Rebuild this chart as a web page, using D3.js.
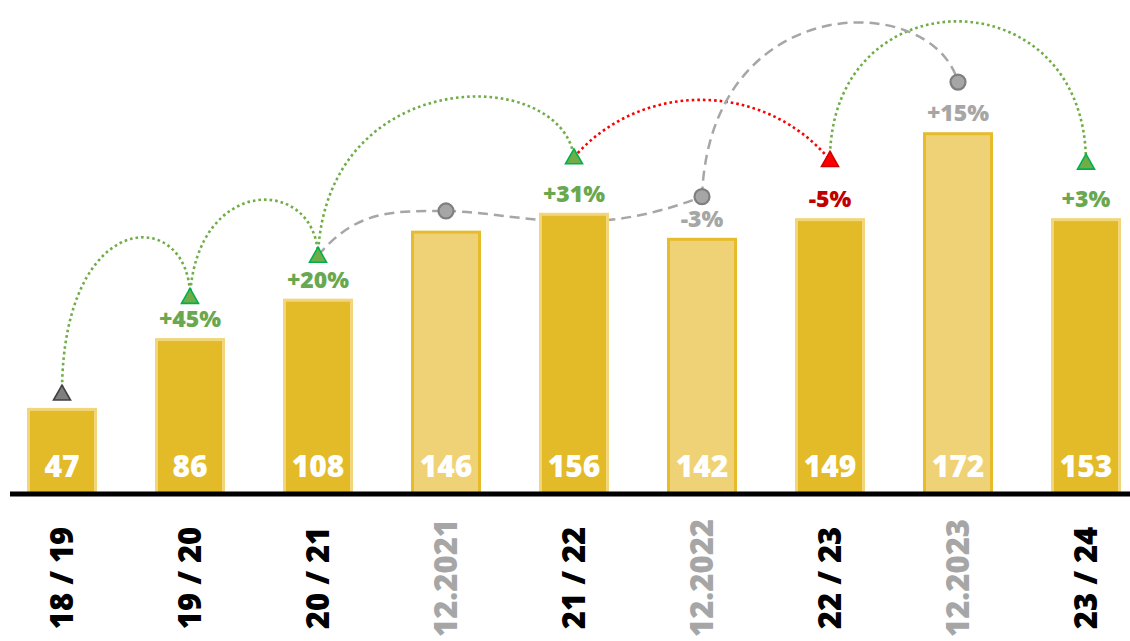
<!DOCTYPE html>
<html>
<head>
<meta charset="utf-8">
<script src="https://cdn.jsdelivr.net/npm/d3@7"></script>
<style>
  body { margin: 0; background: #fff; }
  text { font-family: "Open Sans", sans-serif; }
</style>
</head>
<body>
<div class="container"></div>
<script>
// categories: season totals and december snapshots
let categories = ["18 / 19", "19 / 20", "20 / 21", "12.2021", "21 / 22", "12.2022", "22 / 23", "12.2023", "23 / 24"]
let isSnapshot = [false, false, false, true, false, true, false, true, false]
let totals = [47, 86, 108, 146, 156, 142, 149, 172, 153]
// bar lengths as drawn in the original (two bars are not to scale there)
let barLevels = [47, 86, 108, 146, 156, 142, 153, 201, 153]

// change markers above the bars
let changeLabels = ["", "+45%", "+20%", "", "+31%", "-3%", "-5%", "+15%", "+3%"]
let markerType = ["tri", "tri", "tri", "dot", "tri", "dot", "tri", "dot", "tri"]
let markerTone = ["flat", "up", "up", "grey", "up", "grey", "down", "grey", "up"]
let markerLevels = [55, 109, 132, 157, 187, 165, 185.5, 229, 184]

// connectors: from, to, control levels, control insets, tone
let linkFrom = [0, 1, 2, 4, 6, 2, 3, 5]
let linkTo = [1, 2, 4, 6, 8, 3, 5, 7]
let linkCtrl1 = [160, 177, 239, 230, 289, 158, 156, 281]
let linkCtrl2 = [160, 177, 239, 230, 289, 157, 140, 281]
let linkInset1 = [0, 0.05, 0.03, 0.26, 0, 0.3, 0.3, 0.03]
let linkInset2 = [0, 0.02, 0.05, 0.26, 0, 0.4, 0.45, 0.1]
let linkTone = ["up", "up", "up", "down", "up", "grey", "grey", "grey"]

let width = 1130
let height = 641

let colors = {
  up: { fill: "#70ad47", stroke: "#00b050", text: "#6aa84f", line: "#70ad47" },
  down: { fill: "#ff0000", stroke: "#d00000", text: "#c00000", line: "#ff0000" },
  grey: { fill: "#a6a6a6", stroke: "#7f7f7f", text: "#a6a6a6", line: "#a6a6a6" },
  flat: { fill: "#7f7f7f", stroke: "#404040", text: "#7f7f7f", line: "#7f7f7f" }
}

let svg = d3.select(".container")
  .append("svg")
  .attr("width", width)
  .attr("height", height)

let x = d3.scalePoint()
  .domain(categories)
  .range([62, 1086])

let y = d3.scaleLinear()
  .domain([0, 200])
  .range([492, 134])

let barWidth = 67

// connectors first, bars sit on top of them
let links = linkFrom.map(function (f, i) {
  return { from: f, to: linkTo[i], c1: linkCtrl1[i], c2: linkCtrl2[i], k1: linkInset1[i], k2: linkInset2[i], tone: linkTone[i] }
})

svg.selectAll(".link")
  .data(links)
  .enter()
  .append("path")
  .attr("class", "link")
  .attr("d", function (d) {
    let x1 = x(categories[d.from]), y1 = y(markerLevels[d.from])
    let x2 = x(categories[d.to]), y2 = y(markerLevels[d.to])
    let w = x2 - x1
    let p = d3.path()
    p.moveTo(x1, y1)
    p.bezierCurveTo(x1 + d.k1 * w, y(d.c1), x2 - d.k2 * w, y(d.c2), x2, y2)
    return p.toString()
  })
  .attr("fill", "none")
  .attr("stroke", function (d) { return colors[d.tone].line })
  .attr("stroke-width", function (d) { return d.tone === "grey" ? 2.5 : 2.6 })
  .attr("stroke-dasharray", function (d) { return d.tone === "grey" ? "10,6" : "2.6,3" })

// bars
svg.selectAll(".bar")
  .data(categories)
  .enter()
  .append("rect")
  .attr("class", "bar")
  .attr("x", function (d) { return x(d) - barWidth / 2 })
  .attr("y", function (d, i) { return y(barLevels[i]) + 1.5 })
  .attr("width", barWidth)
  .attr("height", function (d, i) { return y(0) - y(barLevels[i]) })
  .attr("fill", function (d, i) { return isSnapshot[i] ? "#f0d276" : "#e3bb29" })
  .attr("stroke", function (d, i) { return isSnapshot[i] ? "#e6bc2c" : "#f2d67c" })
  .attr("stroke-width", 3)

// values inside the bars
svg.selectAll(".valueText")
  .data(totals)
  .enter()
  .append("text")
  .attr("class", "valueText")
  .attr("x", function (d, i) { return x(categories[i]) })
  .attr("y", 477)
  .attr("text-anchor", "middle")
  .attr("font-size", "30px")
  .attr("font-weight", 800)
  .attr("fill", "white")
  .text(function (d) { return d })

// baseline
svg.append("line")
  .attr("x1", 10)
  .attr("x2", width)
  .attr("y1", 494)
  .attr("y2", 494)
  .attr("stroke", "black")
  .attr("stroke-width", 5)

// change labels
svg.selectAll(".changeText")
  .data(changeLabels)
  .enter()
  .append("text")
  .attr("class", "changeText")
  .attr("x", function (d, i) { return x(categories[i]) })
  .attr("y", function (d, i) { return y(barLevels[i]) - 11 })
  .attr("text-anchor", "middle")
  .attr("font-size", "23px")
  .attr("font-weight", 800)
  .attr("fill", function (d, i) { return colors[markerTone[i]].text })
  .text(function (d) { return d })

// markers
let triangle = "M0,-8.5L8.5,6.5L-8.5,6.5Z"

svg.selectAll(".marker")
  .data(categories)
  .enter()
  .append("path")
  .attr("class", "marker")
  .attr("transform", function (d, i) { return `translate(${x(d)},${y(markerLevels[i])})` })
  .attr("d", function (d, i) {
    if (markerType[i] === "tri") return triangle
    let p = d3.path()
    p.arc(0, 0, 7.5, 0, 2 * Math.PI)
    return p.toString()
  })
  .attr("fill", function (d, i) { return colors[markerTone[i]].fill })
  .attr("stroke", function (d, i) { return colors[markerTone[i]].stroke })
  .attr("stroke-width", function (d, i) { return markerType[i] === "tri" ? 1.6 : 2.2 })

// category labels, rotated
svg.selectAll(".catText")
  .data(categories)
  .enter()
  .append("text")
  .attr("class", "catText")
  .attr("transform", function (d) { return `translate(${x(d)},578) rotate(-90)` })
  .attr("dy", "0.36em")
  .attr("text-anchor", "middle")
  .attr("font-size", "31px")
  .attr("font-weight", 800)
  .attr("fill", function (d, i) { return isSnapshot[i] ? "#a6a6a6" : "black" })
  .text(function (d) { return d })
</script>
</body>
</html>
